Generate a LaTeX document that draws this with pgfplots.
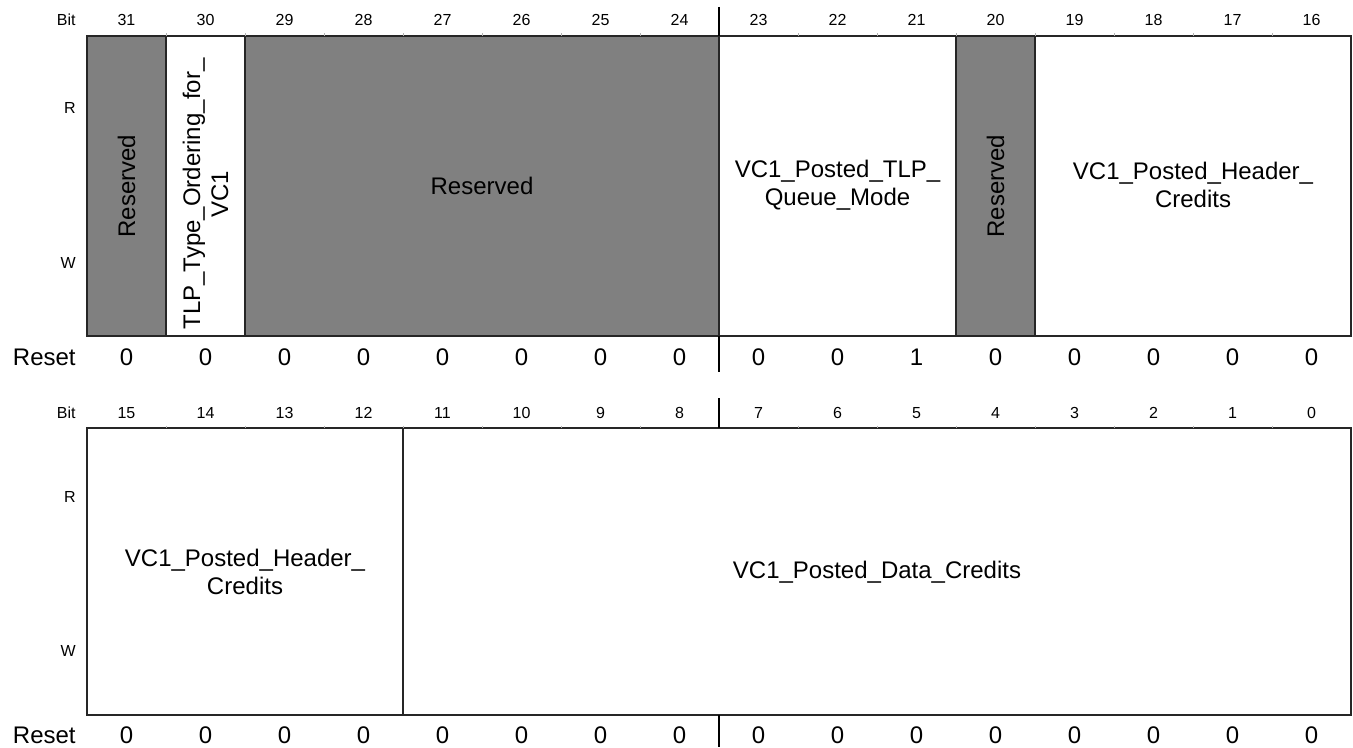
\documentclass[border=0pt]{standalone}
\usepackage{pgfplots}
\pgfplotsset{compat=1.18}
\usepackage{fontspec}
\setmainfont{Liberation Sans}
\definecolor{resgray}{HTML}{808080}
\tikzset{
  fld/.style={line width=0.75pt, draw=black!85},
  big/.style={font=\fontsize{12}{14}\selectfont, inner sep=0pt},
  small/.style={font=\fontsize{8}{9.6}\selectfont, inner sep=0pt},
}
\begin{document}
\begin{tikzpicture}
\begin{axis}[
  width=676.5pt, height=373.5pt, scale only axis,
  xmin=-1.10127, xmax=16.02532, ymin=0, ymax=747, y dir=reverse,
  hide axis, clip=false,
]
\path (rel axis cs:0,0) rectangle (rel axis cs:1,1);
% ---- top register row (bits 31..16) ----
\addplot[fld, fill=resgray] coordinates {(0,36) (1,36) (1,336) (0,336)} -- cycle;
\addplot[fld, fill=white]   coordinates {(1,36) (2,36) (2,336) (1,336)} -- cycle;
\addplot[fld, fill=resgray] coordinates {(2,36) (8,36) (8,336) (2,336)} -- cycle;
\addplot[fld, fill=white]   coordinates {(8,36) (11,36) (11,336) (8,336)} -- cycle;
\addplot[fld, fill=resgray] coordinates {(11,36) (12,36) (12,336) (11,336)} -- cycle;
\addplot[fld, fill=white]   coordinates {(12,36) (16,36) (16,336) (12,336)} -- cycle;
% ---- bottom register row (bits 15..0) ----
\addplot[fld, fill=white] coordinates {(0,428) (4,428) (4,715) (0,715)} -- cycle;
\addplot[fld, fill=white] coordinates {(4,428) (16,428) (16,715) (4,715)} -- cycle;
% ---- faint column notches on the top edges ----
\pgfplotsinvokeforeach{1,...,15}{
  \addplot[black!30, line width=0.4pt] coordinates {(#1,33.5) (#1,36)};
  \addplot[black!30, line width=0.4pt] coordinates {(#1,425.5) (#1,428)};
}
% ---- byte dividers ----
\addplot[black, line width=0.6pt] coordinates {(8,7) (8,36)};
\addplot[black, line width=0.6pt] coordinates {(8,336) (8,372)};
\addplot[black, line width=0.6pt] coordinates {(8,398) (8,428)};
\addplot[black, line width=0.6pt] coordinates {(8,715) (8,747)};
% ---- side labels ----
\node[small, anchor=east] at (-0.139,20) {Bit};
\node[small, anchor=east] at (-0.139,108) {R};
\node[small, anchor=east] at (-0.139,263) {W};
\node[big, anchor=east] at (-0.139,357) {Reset};
\node[small, anchor=east] at (-0.139,413) {Bit};
\node[small, anchor=east] at (-0.139,497) {R};
\node[small, anchor=east] at (-0.139,651) {W};
\node[big, anchor=east] at (-0.139,735) {Reset};
% ---- bit numbers ----
\pgfplotsinvokeforeach{0,...,15}{
  \node[small] at (#1+0.5,20) {\number\numexpr31-#1\relax};
  \node[small] at (#1+0.5,413) {\number\numexpr15-#1\relax};
  \node[big] at (#1+0.5,735) {0};
}
% ---- reset values top ----
\node[big] at (0.5,357) {0};
\node[big] at (1.5,357) {0};
\node[big] at (2.5,357) {0};
\node[big] at (3.5,357) {0};
\node[big] at (4.5,357) {0};
\node[big] at (5.5,357) {0};
\node[big] at (6.5,357) {0};
\node[big] at (7.5,357) {0};
\node[big] at (8.5,357) {0};
\node[big] at (9.5,357) {0};
\node[big] at (10.5,357) {1};
\node[big] at (11.5,357) {0};
\node[big] at (12.5,357) {0};
\node[big] at (13.5,357) {0};
\node[big] at (14.5,357) {0};
\node[big] at (15.5,357) {0};
% ---- field names ----
\node[big, rotate=90] at (0.5,186) {Reserved};
\node[big, rotate=90, align=center] at (1.5,194) {TLP\_Type\_Ordering\_for\_\\VC1};
\node[big] at (5,186) {Reserved};
\node[big, align=center] at (9.5,185) {VC1\_Posted\_TLP\_\\Queue\_Mode};
\node[big, rotate=90] at (11.5,186) {Reserved};
\node[big, align=center] at (14,185) {VC1\_Posted\_Header\_\\Credits};
\node[big, align=center] at (2,572) {VC1\_Posted\_Header\_\\Credits};
\node[big] at (10,572) {VC1\_Posted\_Data\_Credits};
\end{axis}
\end{tikzpicture}
\end{document}
